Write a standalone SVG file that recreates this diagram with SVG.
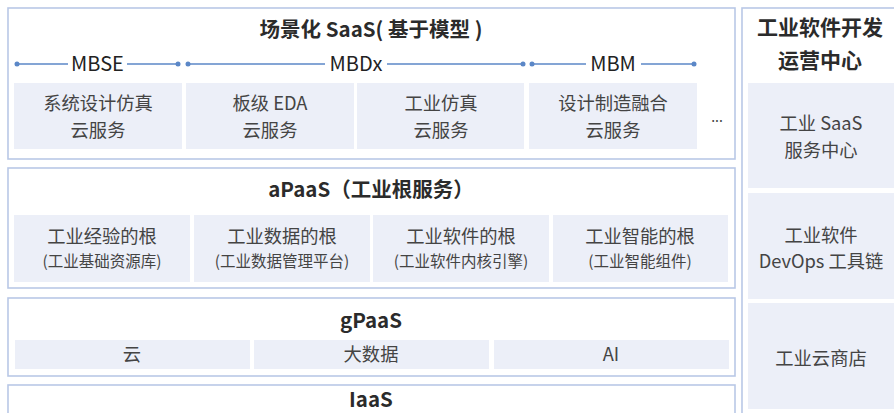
<svg xmlns="http://www.w3.org/2000/svg" width="894" height="413" viewBox="0 0 894 413">
<style>
.box{fill:#fff;stroke:#b9c8e6;stroke-width:1.6}
.cell{fill:#eceff8}
.t{font-family:"Noto Sans CJK SC","Liberation Sans",sans-serif;text-anchor:middle}
.h{font-size:20.5px;font-weight:bold;fill:#2b2b2b}
.c{font-size:18.3px;fill:#444}
.s{font-size:15.5px;fill:#444}
.lab{font-size:20px;fill:#222}
.ln{stroke:#5b87c7;stroke-width:1.6}
.dot{fill:#5b87c7}
</style>
<rect width="894" height="413" fill="#fff"/>
<g id="saas">
<rect class="box" x="8" y="8" width="727" height="151"/>
<text class="t h" x="371" y="37">场景化 SaaS( 基于模型 )</text>
<rect class="cell" x="14" y="83" width="168" height="66"/>
<rect class="cell" x="186" y="83" width="168" height="66"/>
<rect class="cell" x="357" y="83" width="167" height="66"/>
<rect class="cell" x="529" y="83" width="168" height="66"/>
<text class="t c" x="98" y="110">系统设计仿真</text>
<text class="t c" x="98" y="137">云服务</text>
<text class="t c" x="270" y="110">板级 EDA</text>
<text class="t c" x="270" y="137">云服务</text>
<text class="t c" x="441" y="110">工业仿真</text>
<text class="t c" x="441" y="137">云服务</text>
<text class="t c" x="613" y="110">设计制造融合</text>
<text class="t c" x="613" y="137">云服务</text>
<text class="t c" x="717" y="122" style="font-size:14px">...</text>
<text class="t lab" x="97.5" y="71">MBSE</text>
<text class="t lab" x="356" y="71">MBDx</text>
<text class="t lab" x="613" y="71">MBM</text>
</g>
<g id="connectors">
<line class="ln" x1="17" y1="64" x2="68" y2="64"/>
<line class="ln" x1="127" y1="64" x2="178" y2="64"/>
<line class="ln" x1="188" y1="64" x2="325" y2="64"/>
<line class="ln" x1="387" y1="64" x2="523" y2="64"/>
<line class="ln" x1="532" y1="64" x2="586" y2="64"/>
<line class="ln" x1="641" y1="64" x2="694" y2="64"/>
<circle class="dot" cx="17" cy="64" r="2.5"/>
<circle class="dot" cx="178" cy="64" r="2.5"/>
<circle class="dot" cx="188" cy="64" r="2.5"/>
<circle class="dot" cx="523" cy="64" r="2.5"/>
<circle class="dot" cx="532" cy="64" r="2.5"/>
<circle class="dot" cx="694" cy="64" r="2.5"/>
</g>
<g id="apaas">
<rect class="box" x="8" y="168" width="727" height="120"/>
<text class="t h" x="371" y="197">aPaaS（工业根服务）</text>
<rect class="cell" x="14" y="215" width="176" height="67"/>
<rect class="cell" x="194" y="215" width="176" height="67"/>
<rect class="cell" x="373" y="215" width="176" height="67"/>
<rect class="cell" x="553" y="215" width="175" height="67"/>
<text class="t c" x="102" y="243">工业经验的根</text>
<text class="t s" x="102" y="267">(工业基础资源库)</text>
<text class="t c" x="282" y="243">工业数据的根</text>
<text class="t s" x="282" y="267">(工业数据管理平台)</text>
<text class="t c" x="461" y="243">工业软件的根</text>
<text class="t s" x="461" y="267">(工业软件内核引擎)</text>
<text class="t c" x="640" y="243">工业智能的根</text>
<text class="t s" x="640" y="267">(工业智能组件)</text>
</g>
<g id="gpaas">
<rect class="box" x="8" y="298" width="727" height="78"/>
<text class="t h" x="371" y="328">gPaaS</text>
<rect class="cell" x="15" y="340" width="235" height="29"/>
<rect class="cell" x="254" y="340" width="235" height="29"/>
<rect class="cell" x="494" y="340" width="235" height="29"/>
<text class="t c" x="132" y="361">云</text>
<text class="t c" x="371" y="361">大数据</text>
<text class="t c" x="611" y="361">AI</text>
</g>
<g id="iaas">
<rect class="box" x="8" y="385" width="727" height="40"/>
<text class="t h" x="371" y="407">IaaS</text>
</g>
<g id="ops">
<rect class="box" x="742" y="8" width="160" height="420"/>
<text class="t h" x="820" y="35" style="font-size:21px">工业软件开发</text>
<text class="t h" x="820" y="68" style="font-size:21px">运营中心</text>
<rect class="cell" x="748" y="83" width="146" height="105"/>
<rect class="cell" x="748" y="193" width="146" height="106"/>
<rect class="cell" x="748" y="303" width="146" height="106"/>
<text class="t c" x="821" y="130">工业 SaaS</text>
<text class="t c" x="821" y="157">服务中心</text>
<text class="t c" x="821" y="242">工业软件</text>
<text class="t c" x="821" y="268">DevOps 工具链</text>
<text class="t c" x="821" y="365">工业云商店</text>
</g>
</svg>
